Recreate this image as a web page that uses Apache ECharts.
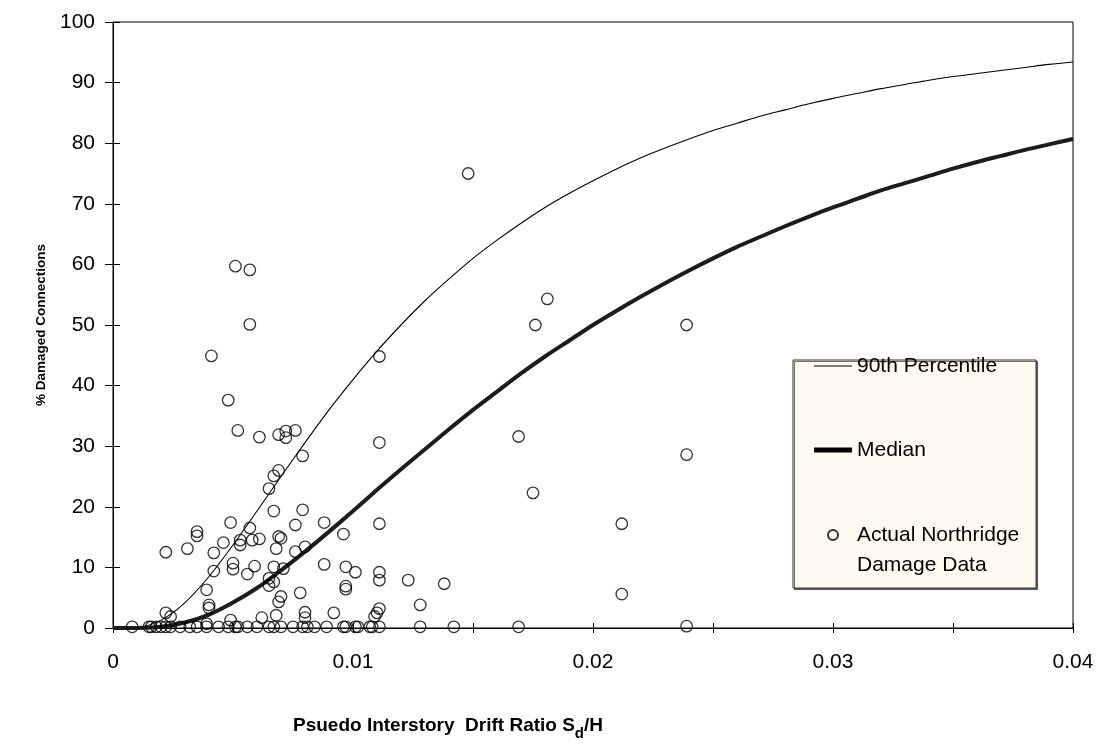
<!DOCTYPE html>
<html>
<head>
<meta charset="utf-8">
<script src="https://cdn.jsdelivr.net/npm/echarts@6/dist/echarts.min.js"></script>
<style>
html,body{margin:0;padding:0;background:#fff;}
#chart{width:1100px;height:744px;}
</style>
</head>
<body>
<div id="chart"></div>
<script>
// Fragility curves (x = pseudo interstory drift ratio, y = % damaged connections)
const driftGrid = [0,0.001,0.002,0.003,0.004,0.005,0.006,0.007,0.008,0.009,
                   0.010,0.011,0.012,0.013,0.014,0.015,0.016,0.017,0.018,0.019,
                   0.020,0.021,0.022,0.023,0.024,0.025,0.026,0.027,0.028,0.029,
                   0.030,0.031,0.032,0.033,0.034,0.035,0.036,0.037,0.038,0.039,0.040];
const p90Pct    = [0,0.1,1.3,4.2,8.5,13.7,19.3,25.0,30.6,36.0,
                   41.0,45.7,50.0,54.0,57.6,61.0,64.0,66.8,69.4,71.7,
                   73.8,75.8,77.6,79.2,80.7,82.1,83.3,84.5,85.5,86.5,
                   87.4,88.2,89.0,89.7,90.4,91.0,91.5,92.0,92.5,93.0,93.4];
const medianPct = [0,0.01,0.2,0.9,2.2,4.2,6.6,9.5,12.6,15.9,
                   19.3,22.8,26.2,29.5,32.8,36.0,39.0,42.0,44.8,47.4,
                   50.0,52.4,54.7,56.9,59.0,61.0,62.9,64.6,66.3,67.9,
                   69.4,70.8,72.2,73.4,74.6,75.8,76.9,77.9,78.9,79.8,80.7];

// Actual Northridge damage data
const obsDrift = [
  0.0051,0.0057,0.0148,0.0057,0.0041,0.0048,0.0052,0.0061,0.0069,0.0072,
  0.0072,0.0076,0.0079,0.0069,0.0067,0.0065,0.0067,0.0079,0.0088,0.0049,
  0.0035,0.0035,0.0022,0.0031,0.0042,0.0046,0.0053,0.0053,0.0057,0.0058,
  0.0061,0.0069,0.0070,0.0076,0.0068,0.0076,0.0080,0.0088,0.0042,0.0050,
  0.0050,0.0056,0.0059,0.0067,0.0071,0.0065,0.0065,0.0067,0.0039,0.0070,
  0.0069,0.0078,0.0040,0.0040,0.0022,0.0024,0.0080,0.0080,0.0062,0.0068,
  0.0049,0.0092,0.0039,0.0111,0.0111,0.0169,0.0096,0.0111,0.0097,0.0101,
  0.0111,0.0111,0.0123,0.0138,0.0097,0.0097,0.0128,0.0111,0.0110,0.0109,
  0.0176,0.0181,0.0239,0.0239,0.0175,0.0212,0.0212,
  0.0008,0.0015,0.0016,0.0018,0.0020,0.0022,0.0024,0.0028,0.0032,0.0035,
  0.0039,0.0044,0.0048,0.0051,0.0052,0.0056,0.0060,0.0065,0.0067,0.0070,
  0.0075,0.0079,0.0081,0.0084,0.0089,0.0096,0.0097,0.0101,0.0102,0.0107,
  0.0108,0.0111,0.0128,0.0142,0.0169,0.0239
];
const obsPct = [
  59.7,59.1,75.0,50.1,44.9,37.6,32.6,31.5,31.9,31.4,
  32.5,32.6,28.4,26.0,25.1,23.0,19.3,19.5,17.4,17.4,
  15.9,15.2,12.5,13.1,12.4,14.1,14.5,13.7,16.5,14.5,
  14.7,15.1,14.8,17.0,13.1,12.6,13.4,10.5,9.4,10.7,
  9.7,8.9,10.2,10.1,9.8,8.2,7.0,7.6,6.3,5.2,
  4.3,5.8,3.8,3.3,2.5,1.9,2.6,1.7,1.7,2.1,
  1.3,2.5,0.7,44.8,30.6,31.6,15.5,17.2,10.1,9.2,
  9.2,7.9,7.9,7.3,6.9,6.4,3.8,3.2,2.5,1.9,
  50.0,54.3,50.0,28.6,22.3,17.2,5.6,
  0.2,0.2,0.2,0.2,0.2,0.2,0.2,0.2,0.2,0.2,
  0.2,0.2,0.2,0.2,0.2,0.2,0.2,0.2,0.2,0.2,
  0.2,0.2,0.2,0.2,0.2,0.2,0.2,0.2,0.2,0.2,
  0.2,0.2,0.2,0.2,0.2,0.3
];

const xTicksMajor = ['0','0.01','0.02','0.03','0.04'];
const FONT = '"Liberation Sans", Arial, Helvetica, sans-serif';

const zip = (xs, ys) => xs.map((x, i) => [x, ys[i]]);

const chart = echarts.init(document.getElementById('chart'), null, {renderer: 'canvas'});

const xBase = {
  type: 'value', min: 0, max: 0.04, interval: 0.005, gridIndex: 0, position: 'bottom',
  splitLine: {show: false}
};
const yBase = {
  type: 'value', min: 0, max: 100, interval: 10, gridIndex: 0, position: 'left',
  splitLine: {show: false}
};

chart.setOption({
  animation: false,
  backgroundColor: '#ffffff',
  grid: {left: 113, right: 27, top: 22, bottom: 116, show: true, borderColor: '#000', borderWidth: 1, backgroundColor: 'transparent'},
  xAxis: [
    Object.assign({}, xBase, {
      axisLine: {show: true, lineStyle: {color: '#000', width: 1}},
      axisTick: {show: true, inside: false, length: 5, lineStyle: {color: '#000'}},
      axisLabel: {
        show: true, margin: 24, fontSize: 21, color: '#000', fontFamily: FONT,
        formatter: function (v) {
          const k = Math.round(v * 1000);
          if (k % 10 !== 0) return '';
          return xTicksMajor[k / 10];
        }
      }
    }),
    Object.assign({}, xBase, {
      axisLine: {show: false},
      axisTick: {show: true, inside: true, length: 5, lineStyle: {color: '#000'}},
      axisLabel: {show: false}
    })
  ],
  yAxis: [
    Object.assign({}, yBase, {
      name: '% Damaged Connections', nameLocation: 'middle', nameGap: 65,
      nameTextStyle: {fontSize: 13.5, fontWeight: 'bold', color: '#000', fontFamily: FONT},
      axisLine: {show: true, lineStyle: {color: '#000', width: 1}},
      axisTick: {show: true, inside: false, length: 8, lineStyle: {color: '#000'}},
      axisLabel: {show: true, margin: 18, fontSize: 21, color: '#000', fontFamily: FONT}
    }),
    Object.assign({}, yBase, {
      axisLine: {show: false},
      axisTick: {show: true, inside: true, length: 7, lineStyle: {color: '#000'}},
      axisLabel: {show: false}
    })
  ],
  legend: [
    {
      orient: 'vertical', left: 814, top: 351, padding: 0,
      itemWidth: 38, itemHeight: 10, itemGap: 54, selectedMode: false,
      textStyle: {fontSize: 21, lineHeight: 30, color: '#000', fontFamily: FONT},
      data: [
        {name: '90th Percentile', icon: 'path://M0 0H38V1H0Z', itemStyle: {color: '#000'}},
        {name: 'Median', icon: 'path://M0 0H38V5H0Z', itemStyle: {color: '#000'}}
      ]
    },
    {
      orient: 'vertical', left: 827, top: 490, padding: 0,
      itemWidth: 38, itemHeight: 10, selectedMode: false,
      formatter: function () { return ' \nActual Northridge\nDamage Data'; },
      textStyle: {fontSize: 21, lineHeight: 30, color: '#000', fontFamily: FONT},
      data: [{name: 'Actual Northridge Damage Data'}]
    }
  ],
  graphic: [
    {
      type: 'rect', z: 0, silent: true,
      shape: {x: 793, y: 360, width: 243, height: 228},
      style: {fill: '#FFFAF0', stroke: '#333', lineWidth: 1, shadowColor: 'rgba(0,0,0,0.55)', shadowOffsetX: 1.5, shadowOffsetY: 1.5, shadowBlur: 0}
    },
    {
      type: 'text', left: 293, top: 716, silent: true,
      style: {
        text: '{b|Psuedo Interstory  Drift Ratio S}{s|d}{b|/H}',
        fill: '#000',
        rich: {
          b: {fontSize: 19, fontWeight: 'bold', fontFamily: FONT, fill: '#000', lineHeight: 22, verticalAlign: 'bottom', padding: [0, 0, 6, 0]},
          s: {fontSize: 15, fontWeight: 'bold', fontFamily: FONT, fill: '#000', lineHeight: 17, verticalAlign: 'bottom'}
        }
      }
    }
  ],
  series: [
    {
      name: '90th Percentile', type: 'line', xAxisIndex: 0, yAxisIndex: 0,
      data: zip(driftGrid, p90Pct), smooth: 0.3,
      symbol: 'none', showSymbol: false,
      lineStyle: {color: '#000', width: 1.1}, itemStyle: {color: '#000'}, z: 3
    },
    {
      name: 'Median', type: 'line', xAxisIndex: 0, yAxisIndex: 0,
      data: zip(driftGrid, medianPct), smooth: 0.3,
      symbol: 'none', showSymbol: false,
      lineStyle: {color: '#1c1c1c', width: 4}, itemStyle: {color: '#000'}, z: 3
    },
    {
      name: 'Actual Northridge Damage Data', type: 'scatter', xAxisIndex: 0, yAxisIndex: 0,
      data: zip(obsDrift, obsPct), symbol: 'circle', symbolSize: 11.5,
      itemStyle: {color: 'rgba(255,255,255,0)', borderColor: '#000', borderWidth: 1.3}, z: 4
    }
  ]
});
</script>
</body>
</html>
